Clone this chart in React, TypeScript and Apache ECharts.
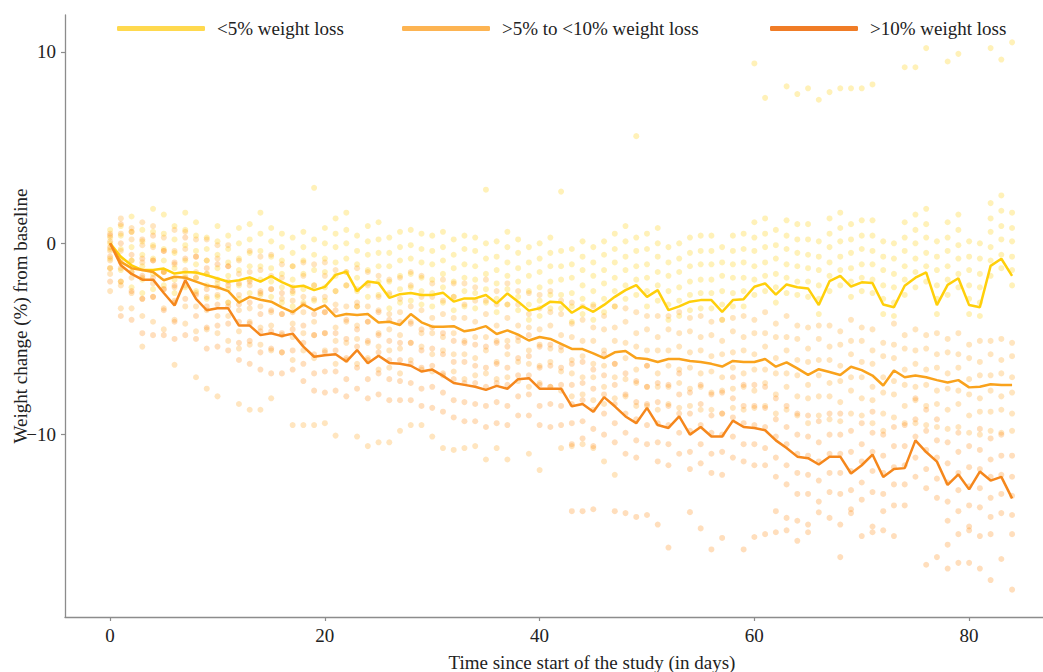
import React, { useEffect, useRef } from "react";
import * as echarts from "echarts";

const SERIES_NAMES = ["<5% weight loss", ">5% to <10% weight loss", ">10% weight loss"];
const LINE_COLORS = ["#FFCF0A", "#F9A21C", "#F5871C"];
const LEGEND_COLORS = ["#FFD94E", "#FDB452", "#F07C26"];
const DOT_COLORS = ["#FFCC00", "#FFA31A", "#FF8A10"];

const xTicks = [0, 20, 40, 60, 80];
const yTicks = [-10, 0, 10];

const meanUnder5 = [0, -0.7, -1.15, -1.4, -1.4, -1.32, -1.58, -1.5, -1.53, -1.67,
  -1.84, -2.01, -1.93, -1.78, -2.0, -1.72, -2.03, -2.28, -2.22, -2.45,
  -2.28, -1.65, -1.48, -2.5, -2.0, -2.07, -2.85, -2.66, -2.6, -2.7,
  -2.7, -2.58, -3.05, -2.88, -2.88, -2.7, -3.14, -2.62, -3.05, -3.52,
  -3.4, -3.05, -3.1, -3.63, -3.3, -3.58, -3.22, -2.8, -2.45, -2.19,
  -2.8, -2.45, -3.49, -3.3, -3.05, -2.97, -2.97, -3.58, -2.97, -2.92,
  -2.27, -2.1, -2.68, -2.15, -2.3, -2.36, -3.23, -1.98, -1.7, -2.26,
  -2.04, -2.08, -3.2, -3.34, -2.22, -1.8, -1.52, -3.23, -2.17, -1.83,
  -3.23, -3.34, -1.18, -0.81, -1.7];

const mean5to10 = [0, -0.97, -1.3, -1.4, -1.5, -1.93, -1.75, -1.8, -2.0, -2.2,
  -2.3, -2.5, -3.1, -2.8, -2.95, -3.05, -3.35, -3.6, -3.2, -3.5,
  -3.25, -3.82, -3.7, -3.75, -3.7, -4.14, -4.1, -4.27, -3.7, -4.13,
  -4.36, -4.36, -4.33, -4.6, -4.5, -4.33, -4.74, -4.55, -4.77, -5.08,
  -4.9, -5.0, -5.26, -5.52, -5.53, -5.75, -6.0, -5.7, -5.63, -6.0,
  -6.05, -6.2, -6.05, -6.05, -6.15, -6.2, -6.3, -6.44, -6.15, -6.2,
  -6.2, -6.05, -6.45, -6.22, -6.54, -6.88, -6.58, -6.73, -6.88, -6.45,
  -6.63, -6.91, -7.43, -6.65, -7.0, -6.91, -7.0, -7.15, -7.28, -7.15,
  -7.53, -7.5, -7.37, -7.41, -7.41];

const meanOver10 = [0, -1.15, -1.6, -1.9, -1.9, -2.6, -3.25, -1.93, -2.9, -3.5,
  -3.4, -3.4, -4.3, -4.3, -4.8, -4.7, -4.85, -4.72, -5.4, -5.93,
  -5.85, -5.8, -6.18, -5.58, -6.27, -5.88, -6.25, -6.3, -6.4, -6.7,
  -6.6, -6.93, -7.3, -7.4, -7.5, -7.66, -7.45, -7.6, -7.1, -7.05,
  -7.6, -7.6, -7.6, -8.52, -8.4, -8.8, -8.04, -8.52, -9.05, -9.4,
  -8.6, -9.5, -9.65, -9.05, -10.0, -9.6, -10.1, -10.1, -9.27, -9.6,
  -9.65, -9.77, -10.3, -10.7, -11.15, -11.23, -11.56, -11.15, -11.15, -12.03,
  -11.6, -11.04, -12.21, -11.79, -11.75, -10.3, -10.91, -11.41, -12.63, -12.08,
  -12.86, -11.93, -12.4, -12.21, -13.33];

// individual measurements, one row per day (0..84)
const dotsUnder5 = [
  [0.7, 0.3, 0, -0.3, -0.8, -1.3], [0.9, 0.4, -0.3, -0.8, -1.4, -2.0], [1.4, 0.6, -0.2, -0.9, -1.5, -2.3],
  [0.7, 0.1, -0.6, -1.2, -1.9, -2.6], [1.8, 0.6, -0.1, -0.8, -1.6, -2.4], [1.5, 0.5, -0.3, -0.9, -1.5, -2.2],
  [0.9, 0.2, -0.5, -1.3, -1.9, -2.6], [1.6, 0.7, -0.1, -0.9, -1.7, -2.3], [1.1, 0.4, -0.4, -1.1, -1.8, -2.5],
  [0.3, -0.3, -0.9, -1.6, -2.2, -2.9], [0.9, 0.1, -0.6, -1.3, -2.1, -2.8], [0.4, -0.3, -1.0, -1.7, -2.4, -3.1],
  [0.8, 0.0, -0.8, -1.4, -2.2, -2.9], [1.0, 0.2, -0.5, -1.2, -1.9, -2.6], [1.6, 0.5, -0.4, -1.2, -1.9, -2.7],
  [0.8, 0.1, -0.7, -1.3, -2.0, -2.8], [0.5, -0.2, -0.9, -1.6, -2.3, -3.1], [0.3, -0.5, -1.2, -1.9, -2.6, -3.3],
  [0.6, -0.2, -0.9, -1.6, -2.4, -3.1], [2.9, 0.2, -0.6, -1.4, -2.2, -3.0], [0.8, 0.0, -0.8, -1.5, -2.3, -3.0],
  [1.3, 0.5, -0.2, -1.0, -1.7, -2.5], [1.6, 0.7, 0.0, -0.8, -1.5, -2.2], [0.4, -0.4, -1.1, -1.8, -2.5, -3.3],
  [0.9, 0.1, -0.6, -1.4, -2.1, -2.8], [1.1, 0.2, -0.5, -1.2, -2.0, -2.7], [0.3, -0.5, -1.2, -2.0, -2.7, -3.4],
  [0.6, -0.2, -0.9, -1.7, -2.4, -3.1], [0.7, -0.1, -0.8, -1.6, -2.3, -3.0], [0.5, -0.3, -1.0, -1.8, -2.5, -3.2],
  [0.4, -0.4, -1.1, -1.9, -2.6, -3.3], [0.6, -0.2, -0.9, -1.6, -2.3, -3.1], [0.2, -0.6, -1.3, -2.0, -2.8, -3.5],
  [0.4, -0.3, -1.1, -1.8, -2.5, -3.3], [0.3, -0.4, -1.2, -1.9, -2.6, -3.4], [2.8, 0.0, -0.8, -1.6, -2.4, -3.1],
  [0.1, -0.7, -1.4, -2.1, -2.9, -3.6], [0.6, -0.2, -1.0, -1.7, -2.4, -3.2], [0.2, -0.5, -1.3, -2.0, -2.8, -3.5],
  [-0.2, -1.0, -1.7, -2.5, -3.2, -4.0], [0.0, -0.8, -1.5, -2.3, -3.0, -3.8], [0.3, -0.5, -1.2, -2.0, -2.7, -3.4],
  [2.7, -0.4, -1.2, -1.9, -2.7, -3.4], [-0.3, -1.1, -1.8, -2.6, -3.3, -4.1], [0.1, -0.7, -1.4, -2.2, -2.9, -3.7],
  [-0.2, -1.0, -1.7, -2.5, -3.2, -4.0], [0.1, -0.6, -1.4, -2.1, -2.9, -3.6], [0.5, -0.3, -1.0, -1.8, -2.5, -3.3],
  [0.9, 0.1, -0.7, -1.4, -2.2, -2.9], [5.6, 0.3, -0.4, -1.2, -1.9, -2.7], [0.5, -0.3, -1.1, -1.8, -2.5, -3.3],
  [0.8, 0.0, -0.7, -1.5, -2.2, -3.0], [-0.2, -1.0, -1.7, -2.5, -3.2, -4.0], [0.0, -0.8, -1.5, -2.3, -3.0, -3.8],
  [0.3, -0.5, -1.2, -2.0, -2.7, -3.5], [0.4, -0.4, -1.1, -1.9, -2.6, -3.4], [0.4, -0.4, -1.1, -1.9, -2.6, -3.4],
  [-0.2, -1.0, -1.7, -2.5, -3.2, -4.0], [0.4, -0.4, -1.1, -1.8, -2.6, -3.3], [0.5, -0.3, -1.0, -1.8, -2.5, -3.3],
  [1.1, 0.3, -0.4, -1.2, -1.9, -2.7], [1.3, 0.5, -0.2, -1.0, -1.7, -2.5], [0.7, -0.1, -0.8, -1.6, -2.3, -3.1],
  [1.2, 0.4, -0.3, -1.1, -1.8, -2.6], [1.0, 0.2, -0.5, -1.2, -2.0, -2.7], [1.0, 0.2, -0.6, -1.3, -2.0, -2.8],
  [0.1, -0.7, -1.4, -2.2, -2.9, -3.7], [1.3, 0.5, -0.2, -1.0, -1.7, -2.5], [1.6, 0.8, 0.1, -0.7, -1.4, -2.2],
  [1.0, 0.2, -0.5, -1.3, -2.0, -2.8], [1.2, 0.4, -0.3, -1.1, -1.8, -2.5], [1.2, 0.4, -0.4, -1.1, -1.9, -2.6],
  [0.1, -0.7, -1.4, -2.2, -2.9, -3.7], [0.0, -0.8, -1.6, -2.3, -3.1, -3.8], [1.1, 0.3, -0.4, -1.2, -1.9, -2.7],
  [1.5, 0.7, 0.0, -0.8, -1.5, -2.3], [1.8, 1.0, 0.3, -0.5, -1.2, -2.0], [0.1, -0.7, -1.4, -2.2, -2.9, -3.7],
  [1.1, 0.3, -0.4, -1.2, -1.9, -2.7], [1.5, 0.7, -0.1, -0.8, -1.6, -2.3], [0.1, -0.7, -1.4, -2.2, -2.9, -3.7],
  [0.0, -0.8, -1.6, -2.3, -3.1, -3.8], [2.1, 1.3, 0.6, -0.2, -0.9, -1.7], [2.5, 1.7, 0.9, 0.2, -0.6, -1.3],
  [1.6, 0.8, 0.1, -0.7, -1.4, -2.2],
];

const dots5to10 = [
  [0.5, 0.1, -0.4, -0.9, -1.6, -2.5], [1.3, 0.5, -0.4, -1.3, -2.2, -3.4], [0.8, 0.2, -0.9, -1.8, -2.6, -3.4],
  [1.1, -0.1, -1.0, -1.8, -2.9, -3.8], [0.9, -0.2, -0.9, -2.1, -2.8, -4.1], [0.3, -0.4, -1.5, -2.4, -3.4, -4.5],
  [0.7, -0.4, -1.1, -2.3, -3.0, -4.0], [0.6, -0.3, -1.4, -2.2, -3.3, -4.2], [0.2, -0.7, -1.5, -2.6, -3.3, -4.6],
  [0.2, -0.9, -1.6, -2.8, -3.5, -4.5], [-0.1, -0.8, -1.9, -2.7, -3.8, -4.7], [-0.1, -1.2, -2.0, -3.1, -3.8, -5.1],
  [-0.9, -1.6, -2.7, -3.5, -4.6, -5.5], [-0.4, -1.5, -2.2, -3.4, -4.1, -5.3], [-0.7, -1.4, -2.5, -3.3, -4.4, -5.3],
  [-0.6, -1.7, -2.4, -3.6, -4.3, -5.6], [-1.1, -1.8, -2.9, -3.7, -4.8, -5.7], [-1.2, -2.3, -3.0, -4.2, -4.9, -6.1],
  [-1.0, -1.7, -2.8, -3.6, -4.7, -5.6], [-1.1, -2.2, -2.9, -4.1, -4.8, -6.0], [-1.0, -1.7, -2.8, -3.6, -4.7, -5.6],
  [-1.4, -2.5, -3.2, -4.4, -5.1, -6.3], [-1.5, -2.2, -3.3, -4.1, -5.2, -6.1], [-1.3, -2.4, -3.1, -4.3, -5.0, -6.3],
  [-1.5, -2.2, -3.3, -4.1, -5.2, -6.0], [-1.7, -2.8, -3.5, -4.7, -5.4, -6.6], [-1.9, -2.6, -3.7, -4.5, -5.6, -6.5],
  [-1.8, -2.9, -3.6, -4.8, -5.5, -6.8], [-1.5, -2.2, -3.3, -4.1, -5.2, -6.1], [-1.7, -2.8, -3.5, -4.7, -5.4, -6.6],
  [-2.1, -2.8, -3.9, -4.7, -5.8, -6.7], [-1.9, -3.0, -3.7, -4.9, -5.6, -6.9], [-2.1, -2.8, -3.9, -4.7, -5.8, -6.7],
  [-2.1, -3.2, -3.9, -5.1, -5.8, -7.1], [-2.3, -3.0, -4.1, -4.9, -6.0, -6.9], [-1.9, -3.0, -3.7, -4.9, -5.6, -6.8],
  [-2.5, -3.2, -4.3, -5.1, -6.2, -7.1], [-2.1, -3.2, -3.9, -5.1, -5.8, -7.0], [-2.5, -3.2, -4.3, -5.1, -6.2, -7.2],
  [-2.6, -3.7, -4.4, -5.6, -6.3, -7.5], [-2.7, -3.4, -4.5, -5.3, -6.4, -7.3], [-2.5, -3.6, -4.3, -5.5, -6.2, -7.5],
  [-3.0, -3.7, -4.8, -5.6, -6.7, -7.7], [-3.1, -4.2, -4.9, -6.1, -6.8, -8.0], [-3.3, -4.0, -5.1, -5.9, -7.0, -7.9],
  [-3.3, -4.4, -5.1, -6.3, -7.0, -8.2], [-3.8, -4.5, -5.6, -6.4, -7.5, -8.4], [-3.3, -4.4, -5.1, -6.3, -7.0, -8.1],
  [-3.4, -4.1, -5.2, -6.0, -7.1, -8.0], [-3.6, -4.7, -5.4, -6.6, -7.3, -8.5], [-3.8, -4.5, -5.6, -6.4, -7.5, -8.5],
  [-3.8, -4.9, -5.6, -6.8, -7.5, -8.7], [-3.8, -4.5, -5.6, -6.4, -7.5, -8.4], [-3.6, -4.7, -5.4, -6.6, -7.3, -8.6],
  [-3.9, -4.6, -5.7, -6.5, -7.6, -8.5], [-3.8, -4.9, -5.6, -6.8, -7.5, -8.7], [-4.1, -4.8, -5.9, -6.7, -7.8, -8.7],
  [-4.0, -5.1, -5.8, -7.0, -7.7, -8.9], [-3.9, -4.6, -5.7, -6.5, -7.6, -8.6], [-3.8, -4.9, -5.6, -6.8, -7.5, -8.7],
  [-4.0, -4.7, -5.8, -6.6, -7.7, -8.6], [-3.6, -4.7, -5.4, -6.6, -7.3, -8.5], [-4.2, -4.9, -6.0, -6.8, -7.9, -8.9],
  [-3.8, -4.9, -5.6, -6.8, -7.5, -8.7], [-4.3, -5.0, -6.1, -6.9, -8.0, -9.0], [-4.4, -5.5, -6.2, -7.4, -8.1, -9.4],
  [-4.3, -5.0, -6.1, -6.9, -8.0, -9.0], [-4.3, -5.4, -6.1, -7.3, -8.0, -9.2], [-4.6, -5.3, -6.4, -7.2, -8.3, -9.3],
  [-4.0, -5.1, -5.8, -7.0, -7.7, -8.9], [-4.4, -5.1, -6.2, -7.0, -8.1, -9.0], [-4.5, -5.6, -6.3, -7.5, -8.2, -9.4],
  [-5.2, -5.9, -7.0, -7.8, -8.9, -9.8], [-4.2, -5.3, -6.0, -7.2, -7.9, -9.1], [-4.8, -5.5, -6.6, -7.4, -8.5, -9.4],
  [-4.5, -5.6, -6.3, -7.5, -8.2, -9.4], [-4.8, -5.5, -6.6, -7.4, -8.5, -9.5], [-4.7, -5.8, -6.5, -7.7, -8.4, -9.6],
  [-5.0, -5.7, -6.8, -7.6, -8.7, -9.7], [-4.7, -5.8, -6.5, -7.7, -8.4, -9.6], [-5.3, -6.0, -7.1, -7.9, -9.0, -9.9],
  [-5.1, -6.2, -6.9, -8.1, -8.8, -10.0], [-5.1, -5.8, -6.9, -7.7, -8.8, -9.8], [-5.0, -6.1, -6.8, -8.0, -8.7, -9.9],
  [-5.2, -5.9, -7.0, -7.8, -8.9, -9.8],
];

const dotsOver10 = [
  [0.4, -0.2, -0.7, -1.3, -2.0], [1.0, 0.0, -1.0, -2.0, -3.8], [0.6, -0.6, -1.5, -2.5, -4.0],
  [0.2, -0.8, -1.7, -2.9, -4.7], [0.4, -0.9, -1.8, -2.8, -4.8], [-0.4, -1.5, -2.4, -3.5, -4.8],
  [-1.0, -2.2, -3.1, -4.1, -5.0], [0.3, -0.8, -1.8, -2.9, -4.8], [-0.7, -1.8, -2.7, -3.8, -5.0],
  [-1.3, -2.4, -3.3, -4.4, -5.5], [-1.1, -2.3, -3.2, -4.3, -5.4], [-1.2, -2.2, -3.3, -4.2, -5.6],
  [-2.1, -3.2, -4.1, -5.2, -6.1], [-2.0, -3.1, -4.2, -5.1, -6.3], [-2.6, -3.7, -4.6, -5.7, -6.6],
  [-2.4, -3.5, -4.6, -5.5, -6.8], [-2.6, -3.7, -4.7, -5.7, -6.8], [-2.5, -3.6, -4.5, -5.6, -6.6],
  [-3.2, -4.3, -5.2, -6.3, -7.2], [-3.7, -4.8, -5.8, -6.8, -7.7], [-3.6, -4.7, -5.7, -6.7, -7.8],
  [-3.5, -4.7, -5.6, -6.7, -7.7], [-4.0, -5.0, -6.0, -7.1, -8.0], [-3.3, -4.5, -5.4, -6.5, -7.6],
  [-4.1, -5.1, -6.1, -7.1, -8.1], [-3.6, -4.8, -5.7, -6.8, -7.9], [-4.0, -5.1, -6.1, -7.1, -8.2],
  [-4.1, -5.2, -6.1, -7.2, -8.2], [-4.2, -5.2, -6.3, -7.3, -8.2], [-4.5, -5.6, -6.5, -7.6, -8.5],
  [-4.4, -5.5, -6.4, -7.5, -8.6], [-4.7, -5.8, -6.8, -7.8, -8.8], [-5.1, -6.2, -7.1, -8.2, -9.1],
  [-5.2, -6.2, -7.3, -8.3, -9.3], [-5.3, -6.4, -7.3, -8.4, -9.3], [-5.4, -6.5, -7.5, -8.5, -9.6],
  [-5.2, -6.3, -7.3, -8.3, -9.4], [-5.4, -6.5, -7.4, -8.5, -9.5], [-4.9, -6.0, -6.9, -8.0, -9.0],
  [-4.8, -5.9, -6.9, -7.9, -9.0], [-5.4, -6.5, -7.4, -8.5, -9.5], [-5.3, -6.4, -7.5, -8.4, -9.6],
  [-5.4, -6.5, -7.4, -8.5, -9.5], [-6.3, -7.4, -8.4, -9.4, -10.5], [-6.2, -7.3, -8.2, -9.3, -10.2],
  [-6.6, -7.6, -8.7, -9.7, -10.6], [-5.8, -6.9, -7.9, -8.9, -10.0], [-6.3, -7.4, -8.4, -9.4, -10.4],
  [-6.8, -7.9, -8.9, -9.9, -11.0], [-7.2, -8.3, -9.2, -10.3, -11.2], [-6.4, -7.5, -8.4, -9.5, -10.5],
  [-7.3, -8.3, -9.4, -10.4, -11.4], [-7.4, -8.5, -9.5, -10.5, -11.6], [-6.8, -7.9, -8.9, -9.9, -11.0],
  [-7.8, -8.9, -9.8, -10.9, -11.8], [-7.4, -8.4, -9.5, -10.5, -11.5], [-7.9, -9.0, -9.9, -11.0, -12.0],
  [-7.8, -8.9, -10.0, -10.9, -12.1], [-7.0, -8.1, -9.1, -10.1, -11.2], [-7.4, -8.5, -9.4, -10.5, -11.4],
  [-7.4, -8.5, -9.5, -10.5, -11.6], [-7.5, -8.6, -9.6, -10.7, -11.6], [-8.1, -9.2, -10.1, -11.2, -12.2],
  [-8.5, -9.6, -10.5, -11.6, -12.6], [-8.9, -10.0, -11.0, -12.0, -13.1], [-9.0, -10.1, -11.1, -12.1, -13.1],
  [-9.3, -10.4, -11.4, -12.4, -13.5], [-8.9, -10.0, -11.0, -12.0, -13.0], [-8.9, -10.0, -11.0, -12.0, -13.1],
  [-9.8, -10.9, -11.9, -12.9, -13.9], [-9.4, -10.5, -11.4, -12.5, -13.4], [-8.8, -9.9, -10.9, -11.9, -13.0],
  [-10.0, -11.1, -12.0, -13.1, -14.0], [-9.6, -10.6, -11.7, -12.6, -13.7], [-9.5, -10.6, -11.6, -12.6, -13.7],
  [-8.1, -9.2, -10.1, -11.2, -12.2], [-8.7, -9.8, -10.8, -11.8, -12.8], [-9.2, -10.3, -11.2, -12.3, -13.3],
  [-10.4, -11.5, -12.5, -13.5, -14.5], [-9.9, -10.9, -12.0, -12.9, -14.0], [-10.6, -11.7, -12.7, -13.7, -14.8],
  [-9.7, -10.8, -11.8, -12.8, -13.8], [-10.2, -11.3, -12.2, -13.3, -14.3], [-10.0, -11.1, -12.1, -13.1, -14.1],
  [-11.1, -12.2, -13.2, -14.2, -15.2],
];

// sparse individual measurements far from the bulk: [day, value]
const extraUnder5 = [
  [60, 9.4], [61, 7.6], [63, 8.2], [64, 7.8], [65, 8.1], [66, 7.5], [67, 7.9], [68, 8.1], [69, 8.1],
  [70, 8.1], [71, 8.3], [74, 9.2], [75, 9.2], [76, 10.2], [78, 9.5], [79, 9.9], [82, 10.2], [83, 9.6], [84, 10.5],
];
const extra5to10 = [
  [3, -5.4], [6, -6.35], [8, -7.0], [9, -7.6], [10, -8.0], [12, -8.4], [13, -8.7], [14, -8.7], [15, -8.1],
  [17, -9.5], [18, -9.5], [19, -9.5], [20, -9.4], [21, -10.05], [23, -10.1], [24, -10.6], [25, -10.4],
  [26, -10.4], [27, -9.8], [28, -9.5], [29, -9.5], [30, -10.1], [31, -10.7], [32, -10.8], [33, -10.7],
  [34, -10.6], [35, -11.3], [36, -10.7], [37, -11.3], [39, -11.0], [40, -11.85], [42, -10.7], [43, -10.6],
  [44, -10.5], [45, -10.7], [46, -11.4], [47, -12.1],
];
const extraOver10 = [
  [43, -14.0], [44, -14.0], [45, -13.9], [47, -14.0], [48, -14.1], [49, -14.3], [50, -14.2], [51, -14.7],
  [52, -15.9], [54, -14.05], [55, -14.9], [56, -16.0], [57, -15.4], [59, -16.0], [60, -15.35], [61, -15.2],
  [62, -14.0], [62, -15.1], [63, -14.35], [63, -15.0], [64, -14.5], [64, -15.55], [65, -14.7], [65, -15.1],
  [66, -14.06], [67, -14.35], [68, -14.7], [68, -16.4], [69, -14.1], [70, -15.3], [71, -14.8], [71, -15.1],
  [72, -15.0], [73, -15.3], [76, -16.8], [77, -16.4], [78, -15.75], [78, -17.0], [79, -15.2], [79, -16.7],
  [80, -15.0], [80, -16.7], [81, -15.3], [81, -17.0], [82, -15.2], [82, -17.6], [83, -16.5], [84, -18.1],
];

const FONT = "'Liberation Serif', 'DejaVu Serif', serif";
const FONT_SIZE = 19;

function buildOption() {
  const means = [meanUnder5, mean5to10, meanOver10];
  const dots = [dotsUnder5, dots5to10, dotsOver10];
  const extras = [extraUnder5, extra5to10, extraOver10];

  const scatterSeries = dots.map((rows, g) => {
    const pts: number[][] = [];
    rows.forEach((row, day) => row.forEach((v) => pts.push([day, v])));
    extras[g].forEach((p) => pts.push([p[0], p[1]]));
    return {
      type: "scatter",
      name: "dots" + g,
      data: pts,
      symbol: "circle",
      symbolSize: 6,
      silent: true,
      itemStyle: { color: DOT_COLORS[g], opacity: 0.28 },
      z: 1,
    };
  });

  const lineSeries = means.map((vals, g) => ({
    type: "line",
    name: SERIES_NAMES[g],
    data: vals.map((v, day) => [day, v]),
    showSymbol: false,
    symbol: "none",
    lineStyle: { color: LINE_COLORS[g], width: 2.5 },
    itemStyle: { color: LINE_COLORS[g] },
    z: 3 + g,
  }));

  const legendLefts = [112, 397, 765];
  const legends = SERIES_NAMES.map((n, g) => ({
    left: legendLefts[g],
    top: 14,
    data: [{ name: n, itemStyle: { color: LEGEND_COLORS[g] } }],
    icon: "roundRect",
    itemWidth: 88,
    itemHeight: 5,
    selectedMode: false,
    textStyle: { fontFamily: FONT, fontSize: FONT_SIZE, color: "#222", padding: [0, 0, 0, 7] },
  }));

  const axisLineStyle = { show: true, onZero: false, lineStyle: { color: "#8c8c8c", width: 1.3 } };
  const tickStyle = { show: true, length: 4, lineStyle: { color: "#8c8c8c", width: 1.2 } };

  return {
    animation: false,
    backgroundColor: "#ffffff",
    textStyle: { fontFamily: FONT },
    legend: legends,
    grid: { left: 65, top: 15, width: 978, height: 602, containLabel: false },
    xAxis: {
      type: "value",
      min: -4.2,
      max: 86.88,
      axisLine: axisLineStyle,
      splitLine: { show: false },
      axisTick: { ...tickStyle, customValues: xTicks },
      axisLabel: {
        customValues: xTicks,
        fontFamily: FONT,
        fontSize: FONT_SIZE,
        color: "#222",
        margin: 9,
      },
    },
    yAxis: {
      type: "value",
      min: -19.53,
      max: 11.93,
      axisLine: axisLineStyle,
      splitLine: { show: false },
      axisTick: { ...tickStyle, customValues: yTicks },
      axisLabel: {
        customValues: yTicks,
        fontFamily: FONT,
        fontSize: FONT_SIZE,
        color: "#222",
        margin: 9,
        formatter: (v: number) => (v < 0 ? "\u2212" + Math.abs(v) : String(v)),
      },
    },
    graphic: [
      {
        type: "text",
        x: 592,
        y: 662,
        style: {
          text: "Time since start of the study (in days)",
          fontFamily: FONT,
          fontSize: FONT_SIZE,
          fill: "#222",
          textAlign: "center",
          textVerticalAlign: "middle",
        },
      },
      {
        type: "text",
        x: 20,
        y: 316,
        rotation: Math.PI / 2,
        style: {
          text: "Weight change (%) from baseline",
          fontFamily: FONT,
          fontSize: FONT_SIZE,
          fill: "#222",
          textAlign: "center",
          textVerticalAlign: "middle",
        },
      },
    ],
    series: [...scatterSeries, ...lineSeries],
  };
}

export default function App() {
  const ref = useRef<HTMLDivElement>(null);
  useEffect(() => {
    if (!ref.current) return;
    const chart = echarts.init(ref.current, undefined, { renderer: "svg" });
    chart.setOption(buildOption() as any);
    return () => chart.dispose();
  }, []);
  return (
    <div
      ref={ref}
      style={{ position: "fixed", left: 0, top: 0, width: 1043, height: 672, background: "#fff" }}
    />
  );
}
